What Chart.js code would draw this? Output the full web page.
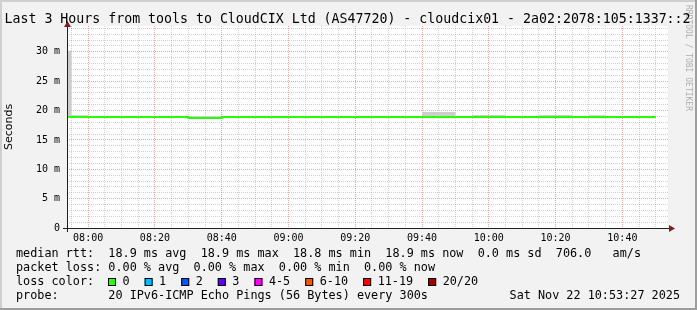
<!DOCTYPE html>
<html>
<head>
<meta charset="utf-8">
<script src="https://cdn.jsdelivr.net/npm/chart.js@4/dist/chart.umd.min.js"></script>
<style>
html, body { margin: 0; padding: 0; background: #f2f2f2; }
#graph { display: block; width: 697px; height: 310px; }
</style>
</head>
<body>
<canvas id="graph" width="697" height="310"></canvas>
<script>
// --- Data ---
const titleText = 'Last 3 Hours from tools to CloudCIX Ltd (AS47720) - cloudcix01 - 2a02:2078:105:1337::2';
const axisTitle = 'Seconds';
const viewStart = '07:53:40';
const viewEnd = '10:53:40';

// each value holds from its start time until the next one (5 min rrd steps)
const stepStart = ['07:53:40', '07:55', '08:00', '08:30', '08:40', '09:40', '09:50', '09:55', '10:05', '10:15', '10:25', '10:30', '10:35', '10:50'];
const medianRtt = [18.9, 18.9, 18.9, 18.75, 18.9, 18.9, 18.9, 18.9, 18.9, 18.9, 18.9, 18.9, 18.9, 18.9];
const smokeLow  = [18.8, 18.8, 18.85, 18.7, 18.85, 18.85, 18.85, 18.85, 18.85, 18.85, 18.85, 18.85, 18.85, 18.85];
const smokeHigh = [30.2, 19.2, 18.95, 19.05, 18.95, 19.75, 18.95, 19.25, 18.95, 19.25, 18.95, 19.2, 18.95, 18.95];
const yMax = 34.4;

const rttLine = 'median rtt:  18.9 ms avg  18.9 ms max  18.8 ms min  18.9 ms now  0.0 ms sd  706.0   am/s';
const lossLine = 'packet loss: 0.00 % avg  0.00 % max  0.00 % min  0.00 % now';
const lossTitle = 'loss color:';
const lossLabels = ['0', '1', '2', '3', '4-5', '6-10', '11-19', '20/20'];
const lossColors = ['#26ff00', '#00b8ff', '#0059ff', '#5e00ff', '#ff00ff', '#ff5500', '#ff0000', '#a10000'];
const probeLine = 'probe:       20 IPv6-ICMP Echo Pings (56 Bytes) every 300s';
const probeDate = 'Sat Nov 22 10:53:27 2025';
const watermark = 'RRDTOOL / TOBI OETIKER';

// rrdtool-ish colours
const GRID = 'rgba(143,143,143,0.4)';
const MGRID = 'rgba(222,79,79,0.5)';
const ARROW = '#801f1f';
const AXIS = '#1f1f1f';
const MONO = '"DejaVu Sans Mono", monospace';

// minutes relative to 08:00
function toMin(s) {
    const [h, m, sec] = s.split(':');
    return Number(h) * 60 + Number(m) + (sec ? Number(sec) / 60 : 0) - 480;
}
function fmtMin(v) {
    const t = 480 + v;
    const h = Math.floor(t / 60), m = t % 60;
    return String(h).padStart(2, '0') + ':' + String(m).padStart(2, '0');
}

const xs = stepStart.map(toMin);
const pts = arr => arr.map((y, i) => ({ x: xs[i], y }));

function ticksEvery(step) {
    return scale => {
        const t = [];
        for (let v = Math.ceil(scale.min / step) * step; v <= scale.max; v += step) t.push({ value: v });
        scale.ticks = t;
    };
}

// background, frame, axes with arrows, title, legend text
const rrdDecor = {
    id: 'rrdDecor',
    beforeDraw(chart) {
        const { ctx, width, height, chartArea: a } = chart;
        ctx.save();
        ctx.fillStyle = '#f2f2f2';
        ctx.fillRect(0, 0, width, height);
        ctx.fillStyle = '#cfcfcf';
        ctx.fillRect(0, 0, width, 2);
        ctx.fillRect(0, 0, 2, height);
        ctx.fillStyle = '#9e9e9e';
        ctx.fillRect(0, height - 2, width, 2);
        ctx.fillRect(width - 2, 0, 2, height);
        ctx.fillStyle = '#ffffff';
        ctx.fillRect(a.left, a.top, a.right - a.left, a.bottom - a.top);
        ctx.restore();
    },
    afterDraw(chart) {
        const { ctx, width, chartArea: a } = chart;
        ctx.save();

        // axes
        ctx.strokeStyle = AXIS;
        ctx.lineWidth = 1;
        ctx.beginPath();
        ctx.moveTo(a.left - 4, a.bottom + 0.5);
        ctx.lineTo(a.right + 2, a.bottom + 0.5);
        ctx.moveTo(a.left + 0.5, a.bottom + 4);
        ctx.lineTo(a.left + 0.5, a.top - 1);
        ctx.stroke();

        // arrows
        ctx.fillStyle = ARROW;
        ctx.beginPath();
        ctx.moveTo(a.right + 1, a.bottom - 3);
        ctx.lineTo(a.right + 7, a.bottom + 0.5);
        ctx.lineTo(a.right + 1, a.bottom + 4);
        ctx.closePath();
        ctx.fill();
        ctx.beginPath();
        ctx.moveTo(a.left - 3, a.top + 1);
        ctx.lineTo(a.left + 0.5, a.top - 5);
        ctx.lineTo(a.left + 4, a.top + 1);
        ctx.closePath();
        ctx.fill();

        // title
        ctx.fillStyle = '#000';
        ctx.textBaseline = 'middle';
        ctx.textAlign = 'left';
        ctx.font = '13.25px ' + MONO;
        ctx.fillText(titleText, 4.5, 19.5);

        // watermark
        ctx.save();
        ctx.translate(width - 9, 5);
        ctx.rotate(Math.PI / 2);
        ctx.font = '8px ' + MONO;
        ctx.fillStyle = 'rgba(0,0,0,0.3)';
        ctx.fillText(watermark, 0, 0);
        ctx.restore();

        // legend
        ctx.font = '11.8px ' + MONO;
        ctx.fillStyle = '#000';
        ctx.fillText(rttLine, 16, 254);
        ctx.fillText(lossLine, 16, 268);
        ctx.fillText(lossTitle, 16, 282);
        let x = 108;
        lossLabels.forEach((lab, i) => {
            ctx.fillStyle = lossColors[i];
            ctx.fillRect(x, 278, 8, 8);
            ctx.strokeStyle = '#000';
            ctx.strokeRect(x + 0.5, 278.5, 7, 7);
            ctx.fillStyle = '#000';
            ctx.fillText(lab, x + 14.5, 282);
            x += 14.5 + ctx.measureText(lab).width + 15;
        });
        ctx.fillText(probeLine, 16, 296);
        ctx.textAlign = 'right';
        ctx.fillText(probeDate, 680, 296);

        ctx.restore();
    }
};

new Chart(document.getElementById('graph'), {
    type: 'line',
    data: {
        datasets: [
            {
                label: 'median rtt', data: pts(medianRtt), stepped: 'before',
                borderColor: lossColors[0], borderWidth: 2, pointRadius: 0, fill: false
            },
            {
                label: 'smoke low', data: pts(smokeLow), stepped: 'before',
                borderWidth: 0, borderColor: 'rgba(0,0,0,0)', pointRadius: 0, fill: false
            },
            {
                label: 'smoke high', data: pts(smokeHigh), stepped: 'before',
                borderWidth: 0, borderColor: 'rgba(0,0,0,0)', pointRadius: 0,
                fill: '-1', backgroundColor: '#cdcdcd'
            }
        ]
    },
    options: {
        responsive: false,
        devicePixelRatio: 1,
        animation: false,
        layout: { padding: { left: 0, top: 26, right: 29, bottom: 0 } },
        plugins: { legend: { display: false }, tooltip: { enabled: false } },
        scales: {
            x: {
                type: 'linear',
                min: toMin(viewStart),
                max: toMin(viewEnd),
                afterBuildTicks: ticksEvery(5),
                afterFit: s => { s.height = 82; },
                grid: {
                    color: c => (c.tick && c.tick.value % 20 === 0) ? MGRID : GRID,
                    lineWidth: 1,
                    drawTicks: false
                },
                border: { display: false, dash: [1, 1] },
                ticks: {
                    autoSkip: false,
                    maxRotation: 0,
                    padding: 4,
                    color: '#000',
                    font: { family: MONO, size: 10 },
                    callback: v => v % 20 === 0 ? fmtMin(v) : ''
                }
            },
            y: {
                min: 0,
                max: yMax,
                afterBuildTicks: ticksEvery(1),
                afterFit: s => { s.width = 67; },
                grid: {
                    color: c => !c.tick || c.tick.value === 0 ? 'rgba(0,0,0,0)' : (c.tick.value % 5 === 0 ? MGRID : GRID),
                    lineWidth: 1,
                    drawTicks: false
                },
                border: { display: false, dash: [1, 1] },
                title: {
                    display: true,
                    text: axisTitle,
                    color: '#000',
                    font: { family: '"DejaVu Sans", sans-serif', size: 11 },
                    padding: { top: 3, bottom: 0 }
                },
                ticks: {
                    autoSkip: false,
                    padding: 7,
                    color: '#000',
                    font: { family: MONO, size: 10 },
                    callback: v => v % 5 === 0 ? (v === 0 ? '0' : v + ' m') : ''
                }
            }
        }
    },
    plugins: [rrdDecor]
});
</script>
</body>
</html>
